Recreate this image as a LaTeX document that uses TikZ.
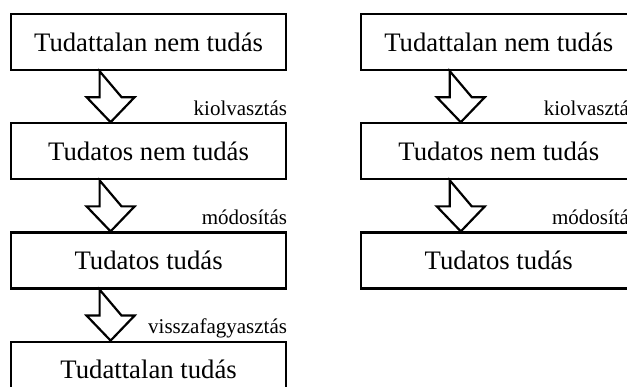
\documentclass[tikz,border=0pt]{standalone}
\usepackage{fontspec}
\setmainfont{Liberation Serif}
\usetikzlibrary{positioning}

% hollow block arrow from the bottom of one box to the top of the next
\newcommand{\blockarrow}[2]{%
  \draw[block arrow] ([xshift=-49pt]#1.south) -- ++(0,-26pt) -- ++(-13pt,0)
    -- ([xshift=-38pt]#2.north) -- ++(24pt,25pt) -- ++(-13pt,0) -- cycle;}

\begin{document}
\begin{tikzpicture}[node distance=51pt,
	  main node/.style={rectangle,draw,line width=2.2pt,minimum width=275pt,
	    minimum height=56pt,inner sep=0pt,font=\fontsize{26.7}{30}\selectfont},
	  step label/.style={anchor=base east,inner sep=0pt,font=\fontsize{21}{24}\selectfont},
	  block arrow/.style={line width=2.2pt,fill=white}]

	  \useasboundingbox (0,0) rectangle (627pt,-387pt);

	  % left column
	  \node[main node,anchor=north west] (t1) at (10pt,-13pt) {Tudattalan nem tudás};
	  \node[main node] (t2) [below=of t1] {Tudatos nem tudás};
	  \node[main node] (t3) [below=of t2] {Tudatos tudás};
	  \node[main node] (t4) [below=of t3] {Tudattalan tudás};

	  \blockarrow{t1}{t2}
	  \blockarrow{t2}{t3}
	  \blockarrow{t3}{t4}

	  \node[step label] (k1) at ([yshift=7pt]t2.north east) {kiolvasztás};
	  \node[step label] (m1) at ([yshift=7pt]t3.north east) {módosítás};
	  \node[step label] (v1) at ([yshift=7pt]t4.north east) {visszafagyasztás};

	  % right column
	  \node[main node] (r1) [right=73pt of t1] {Tudattalan nem tudás};
	  \node[main node] (r2) [below=of r1] {Tudatos nem tudás};
	  \node[main node] (r3) [below=of r2] {Tudatos tudás};

	  \blockarrow{r1}{r2}
	  \blockarrow{r2}{r3}

	  \node[step label] (k2) at ([yshift=7pt]r2.north east) {kiolvasztás};
	  \node[step label] (m2) at ([yshift=7pt]r3.north east) {módosítás};

\end{tikzpicture}
\end{document}
